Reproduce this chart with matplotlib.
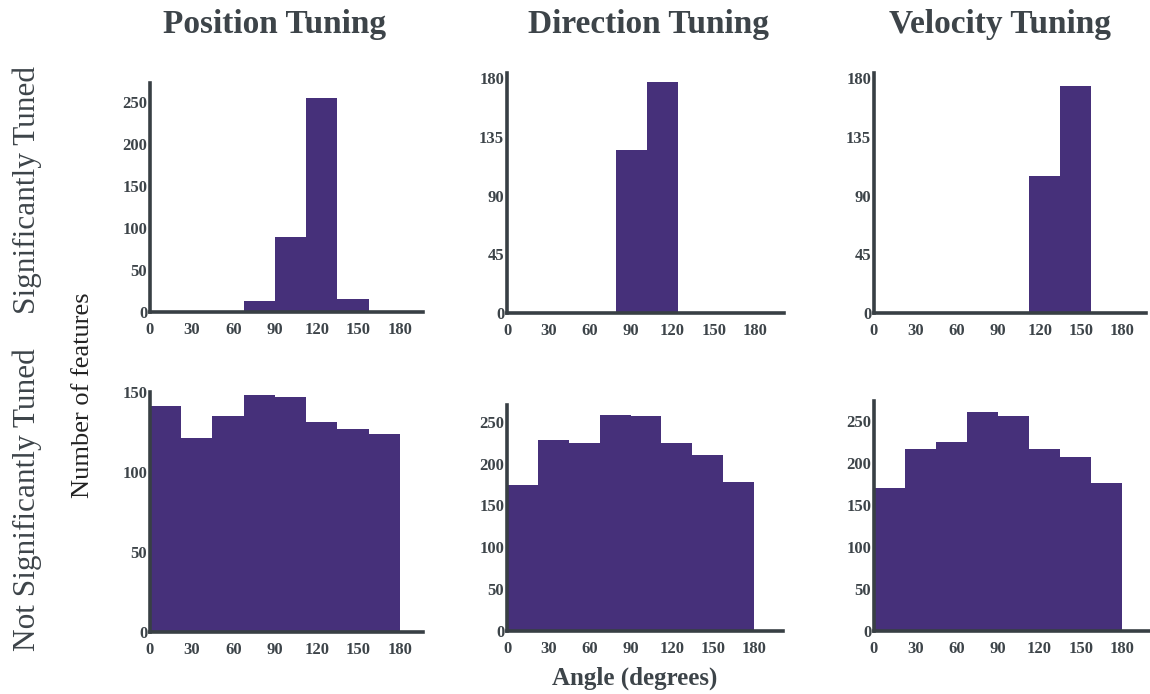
import numpy as np
import matplotlib.pyplot as plt

# --- Data (counts per 22.5 degree bin) ---
bin_width = 22.5
all_bins = np.arange(0, 180, bin_width)

pos_sig_left = [67.5, 90, 112.5, 135]
pos_sig_counts = [13, 89, 254, 15]

dir_sig_left = [78.75, 101.25]
dir_sig_counts = [125, 177]

vel_sig_left = [112.5, 135]
vel_sig_counts = [105, 174]

pos_not_counts = [141, 121, 135, 148, 147, 131, 127, 124]
dir_not_counts = [175, 228, 225, 258, 257, 225, 210, 178]
vel_not_counts = [170, 217, 225, 261, 256, 217, 207, 176]

col_titles = ['Position Tuning', 'Direction Tuning', 'Velocity Tuning']
x_ticks = [0, 30, 60, 90, 120, 150, 180]

# --- Style ---
bar_color = '#46307a'
dark = '#3d4449'
plt.rcParams['font.family'] = ['Liberation Serif', 'DejaVu Serif']

W, H = 1150, 694
fig = plt.figure(figsize=(W / 100, H / 100), dpi=100)


def add_panel(left, right, top, bottom):
    return fig.add_axes([left / W, 1 - bottom / H, (right - left) / W, (bottom - top) / H])


# pixel boxes: left, right, top, bottom
panels = [
    (add_panel(150, 423, 83, 312), pos_sig_left, pos_sig_counts, 272, [0, 50, 100, 150, 200, 250], 196.6),
    (add_panel(507, 784, 73, 313), dir_sig_left, dir_sig_counts, 184, [0, 45, 90, 135, 180], 201),
    (add_panel(874, 1146, 73, 313), vel_sig_left, vel_sig_counts, 184, [0, 45, 90, 135, 180], 197),
    (add_panel(150, 423, 392, 632), all_bins, pos_not_counts, 150, [0, 50, 100, 150], 196.6),
    (add_panel(507, 783, 405, 631), all_bins, dir_not_counts, 270, [0, 50, 100, 150, 200, 250], 201),
    (add_panel(874, 1150, 401, 631), all_bins, vel_not_counts, 274, [0, 50, 100, 150, 200, 250], 200),
]

for ax, lefts, counts, ytop, yticks, xmax in panels:
    ax.bar(lefts, counts, width=bin_width, align='edge', color=bar_color, linewidth=0)
    ax.set_xlim(0, xmax)
    ax.set_ylim(0, ytop)
    ax.set_xticks(x_ticks)
    ax.set_yticks(yticks)
    for s in ['top', 'right']:
        ax.spines[s].set_visible(False)
    for s in ['left', 'bottom']:
        ax.spines[s].set_linewidth(2.6)
        ax.spines[s].set_color('#383f44')
    ax.tick_params(length=0, labelsize=12, colors=dark)
    for lab in ax.get_xticklabels() + ax.get_yticklabels():
        lab.set_fontweight('bold')
    ax.tick_params(axis='x', pad=7)
    ax.tick_params(axis='y', pad=2)
    ax.patch.set_visible(False)

# column titles
for title, xc in zip(col_titles, [275, 648, 1000]):
    fig.text(xc / W, 1 - 24 / H, title, ha='center', va='center',
             fontsize=24, fontweight='bold', color=dark)

# row labels
fig.text(27 / W, 1 - 190 / H, 'Significantly Tuned', rotation=90, ha='center', va='center',
         fontsize=22.5, color=dark)
fig.text(27 / W, 1 - 500 / H, 'Not Significantly Tuned', rotation=90, ha='center', va='center',
         fontsize=22.5, color=dark)

fig.text(83 / W, 1 - 395 / H, 'Number of features', rotation=90, ha='center', va='center',
         fontsize=19, color='#222222')
fig.text(635 / W, 1 - 678 / H, 'Angle (degrees)', ha='center', va='center',
         fontsize=18, fontweight='bold', color=dark)

fig.savefig('out.png', dpi=100)
